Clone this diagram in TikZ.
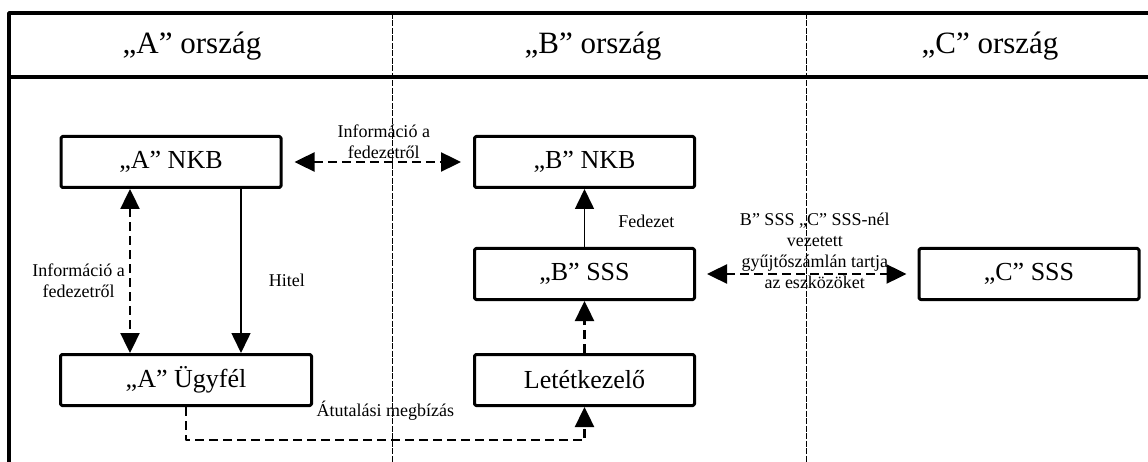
\documentclass[tikz,border=0pt]{standalone}
\usepackage{fontspec}
\setmainfont{Liberation Serif}
\usetikzlibrary{arrows.meta}
\tikzset{
  box/.style={draw,line width=3pt,rounded corners=1.5pt,minimum width=220pt,
    minimum height=51pt,inner sep=0pt,font=\fontsize{26}{30}\selectfont},
  head/.style={font=\fontsize{31}{35}\selectfont},
  lbl/.style={font=\fontsize{18}{21}\selectfont,align=center,inner sep=1pt},
  dasharrow/.style={line width=2.4pt,dash pattern=on 9pt off 5pt},
  solidarrow/.style={line width=1.6pt},
  divider/.style={line width=0.8pt,dash pattern=on 6pt off 1.5pt}
}
\begin{document}
\begin{tikzpicture}[x=1pt,y=-1pt,line join=round,>={Triangle[length=20pt,width=19pt]}]
\useasboundingbox (0,0) rectangle (1148,462);
% frame and columns
\draw[line width=3.5pt] (1148,13) -- (9,13) -- (9,462);
\draw[line width=3.5pt] (9,77) -- (1148,77);
\draw[divider] (392,13) -- (392,462);
\draw[divider] (806,13) -- (806,462);

\node[head] (hA) at (192,46) {„A” ország};
\node[head] (hB) at (593,46) {„B” ország};
\node[head] (hC) at (990,46) {„C” ország};

% boxes
\node[box] (ankb) at (171,162) {„A” NKB};
\node[box] (bnkb) at (584.5,162) {„B” NKB};
\node[box] (bsss) at (584.5,274) {„B” SSS};
\node[box] (csss) at (1029,274) {„C” SSS};
\node[box,minimum width=251pt] (ugyfel) at (186,380) {„A” Ügyfél};
\node[box] (letet) at (584.5,380) {Letétkezelő};

% connectors
\draw[dasharrow,<->,shorten <=12pt,shorten >=12pt] (ankb) -- (bnkb)
  node[lbl,midway,above=1pt,xshift=6pt] {Információ a\\fedezetről};
\draw[dasharrow,<->] ([xshift=-41pt]ankb.south) -- ([xshift=-41pt]ankb.south |- ugyfel.north)
  node[lbl,midway,left=3pt,yshift=-10pt] {Információ a\\fedezetről};
\draw[solidarrow,->] ([xshift=70pt]ankb.south) -- ([xshift=70pt]ankb.south |- ugyfel.north)
  node[lbl,midway,right=26pt,yshift=-9pt] {Hitel};
\draw[solidarrow,->] (bsss) -- (bnkb)
  node[lbl,midway,right=32pt,yshift=-3pt] {Fedezet};
\draw[dasharrow,->] (letet) -- (bsss);
\draw[dasharrow,<->,shorten <=11pt,shorten >=11pt] (bsss) -- (csss)
  node[lbl,midway,xshift=8pt,yshift=23pt] {B” SSS „C” SSS-nél\\vezetett\\gyűjtőszámlán tartja\\az eszközöket};
\draw[dasharrow,->] (ugyfel.south) -- ++(0,33) -| (letet.south)
  node[lbl,pos=0.25,above=17pt] {Átutalási megbízás};
\end{tikzpicture}
\end{document}
